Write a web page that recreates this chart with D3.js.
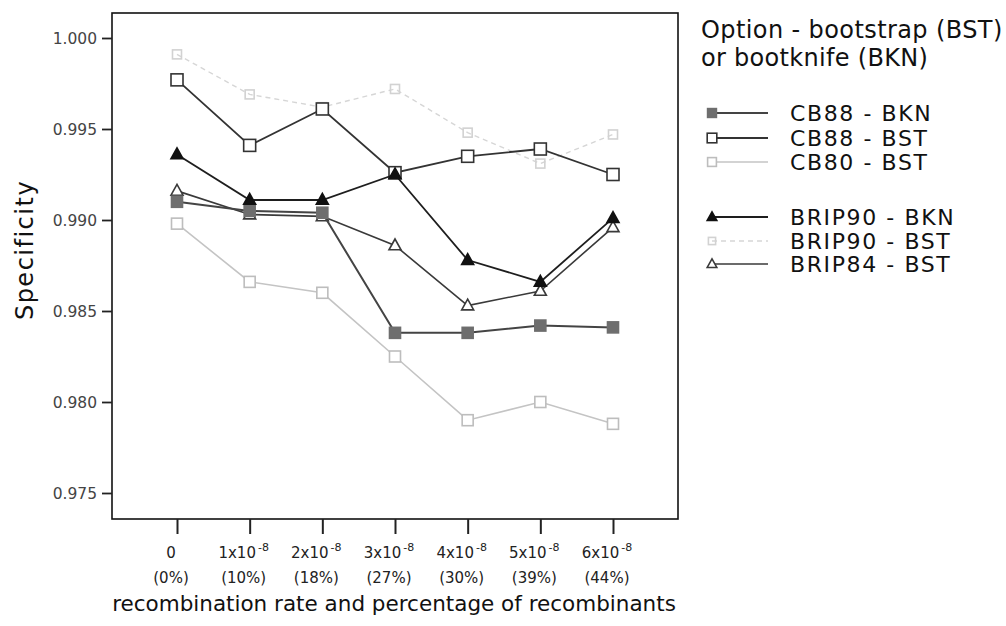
<!DOCTYPE html>
<html>
<head>
<meta charset="utf-8">
<script src="https://cdn.jsdelivr.net/npm/d3@7/dist/d3.min.js"></script>
<style>
  html, body { margin: 0; padding: 0; background: #fff; }
  svg { display: block; }
</style>
</head>
<body>
<svg id="chart" width="1006" height="626"></svg>
<script>
// Recombination rate categories (x axis)
const categories = ["r0", "r1", "r2", "r3", "r4", "r5", "r6"];
const rateMantissa = ["0", "1x10", "2x10", "3x10", "4x10", "5x10", "6x10"];
const rateExponent = ["", "-8", "-8", "-8", "-8", "-8", "-8"];
const pctLabels = ["(0%)", "(10%)", "(18%)", "(27%)", "(30%)", "(39%)", "(44%)"];
const yTicks = [0.975, 0.980, 0.985, 0.990, 0.995, 1.000];

// Specificity per option
const brip90Bst = [0.9991, 0.9969, 0.9962, 0.9972, 0.9948, 0.9931, 0.9947];
const cb80Bst   = [0.9898, 0.9866, 0.9860, 0.9825, 0.9790, 0.9800, 0.9788];
const brip84Bst = [0.9916, 0.9903, 0.9902, 0.9886, 0.9853, 0.9861, 0.9896];
const cb88Bkn   = [0.9910, 0.9905, 0.9904, 0.9838, 0.9838, 0.9842, 0.9841];
const cb88Bst   = [0.9977, 0.9941, 0.9961, 0.9926, 0.9935, 0.9939, 0.9925];
const brip90Bkn = [0.9936, 0.9911, 0.9911, 0.9925, 0.9878, 0.9866, 0.9901];

const series = [
  { name: "BRIP90 - BST", values: brip90Bst, stroke: "#d6d6d6", width: 1.4, dash: "5,4", marker: "square", fill: "none", mstroke: "#d2d2d2", size: 9 },
  { name: "CB80 - BST",   values: cb80Bst,   stroke: "#c4c4c4", width: 1.6, dash: null, marker: "square", fill: "#fff", mstroke: "#bdbdbd", size: 11 },
  { name: "BRIP84 - BST", values: brip84Bst, stroke: "#3a3a3a", width: 1.6, dash: null, marker: "triangle", fill: "#fff", mstroke: "#3a3a3a", size: 12 },
  { name: "CB88 - BKN",   values: cb88Bkn,   stroke: "#444444", width: 2.0, dash: null, marker: "square", fill: "#6e6e6e", mstroke: "#6e6e6e", size: 11 },
  { name: "CB88 - BST",   values: cb88Bst,   stroke: "#333333", width: 1.8, dash: null, marker: "square", fill: "#fff", mstroke: "#333333", size: 12 },
  { name: "BRIP90 - BKN", values: brip90Bkn, stroke: "#1e1e1e", width: 1.8, dash: null, marker: "triangleFilled", fill: "#111", mstroke: "#111", size: 12 }
];

// Legend rows, top to bottom, with a group gap
const legendOrder = ["CB88 - BKN", "CB88 - BST", "CB80 - BST", "BRIP90 - BKN", "BRIP90 - BST", "BRIP84 - BST"];
const legendBaselines = [121, 146, 170, 225, 249, 272];

const svg = d3.select("#chart");
const plot = { left: 112, top: 13, right: 678, bottom: 519 };

const x = d3.scalePoint().domain(categories).range([177, 613]);
const y = d3.scaleLinear().domain([0.975, 1.0]).range([493, 38]);

// frame
svg.append("rect")
  .attr("x", plot.left).attr("y", plot.top)
  .attr("width", plot.right - plot.left).attr("height", plot.bottom - plot.top)
  .attr("fill", "none").attr("stroke", "#111").attr("stroke-width", 1.6);

// y axis
const yAxis = d3.axisLeft(y).tickValues(yTicks).tickFormat(d3.format(".3f")).tickSize(10).tickPadding(5);
const gy = svg.append("g").attr("transform", `translate(${plot.left},0)`).call(yAxis);
gy.select(".domain").remove();
gy.selectAll(".tick line").attr("stroke", "#222").attr("stroke-width", 1.8);
gy.selectAll(".tick text")
  .attr("font-family", "DejaVu Sans, sans-serif").attr("font-size", 15.5)
  .attr("fill", "#444").attr("dy", "0.36em");

// x axis ticks
const xAxis = d3.axisBottom(x).tickSize(15).tickFormat("");
const gx = svg.append("g").attr("transform", `translate(0,${plot.bottom})`).call(xAxis);
gx.select(".domain").remove();
gx.selectAll(".tick line").attr("stroke", "#222").attr("stroke-width", 2);

// x tick labels: rate with exponent, then percentage of recombinants
const labelShift = -6;
const xl = svg.append("g").attr("font-family", "DejaVu Sans, sans-serif").attr("fill", "#222");
categories.forEach((c, i) => {
  const t = xl.append("text")
    .attr("x", x(c) + labelShift).attr("y", 558)
    .attr("text-anchor", "middle").attr("font-size", 15);
  t.append("tspan").text(rateMantissa[i]);
  if (rateExponent[i]) {
    t.append("tspan").attr("font-size", 11).attr("dy", -7).attr("dx", 2).text(rateExponent[i]);
  }
  xl.append("text")
    .attr("x", x(c) + labelShift).attr("y", 583)
    .attr("text-anchor", "middle").attr("font-size", 15)
    .text(pctLabels[i]);
});

// axis titles
svg.append("text")
  .attr("x", 394).attr("y", 611).attr("text-anchor", "middle")
  .attr("font-family", "DejaVu Sans, sans-serif").attr("font-size", 21.5).attr("fill", "#111")
  .text("recombination rate and percentage of recombinants");

svg.append("text")
  .attr("transform", "translate(33,250) rotate(-90)")
  .attr("text-anchor", "middle")
  .attr("font-family", "DejaVu Sans, sans-serif").attr("font-size", 24)
  .attr("letter-spacing", 1.5).attr("fill", "#111")
  .text("Specificity");

// marker drawing
function drawMarker(g, s, cx, cy, scale) {
  const k = scale || 1;
  const sz = s.size * k;
  if (s.marker === "square") {
    g.append("rect")
      .attr("x", cx - sz / 2).attr("y", cy - sz / 2)
      .attr("width", sz).attr("height", sz)
      .attr("fill", s.fill).attr("stroke", s.mstroke).attr("stroke-width", 1.6);
  } else {
    const h = sz * 0.9;
    const pts = [[cx, cy - h * 0.6], [cx - sz / 2, cy + h * 0.4], [cx + sz / 2, cy + h * 0.4]];
    g.append("polygon")
      .attr("points", pts.map(p => p.join(",")).join(" "))
      .attr("fill", s.marker === "triangleFilled" ? s.fill : "#fff")
      .attr("stroke", s.mstroke).attr("stroke-width", 1.6)
      .attr("stroke-linejoin", "miter");
  }
}

const line = d3.line().x((d, i) => x(categories[i])).y(d => y(d));

const marks = svg.append("g");
series.forEach(s => {
  const g = marks.append("g");
  g.append("path")
    .attr("d", line(s.values))
    .attr("fill", "none").attr("stroke", s.stroke).attr("stroke-width", s.width)
    .attr("stroke-dasharray", s.dash);
  s.values.forEach((v, i) => drawMarker(g, s, x(categories[i]), y(v)));
});

// legend
const leg = svg.append("g").attr("font-family", "DejaVu Sans, sans-serif").attr("fill", "#111");
leg.append("text").attr("x", 701).attr("y", 38).attr("font-size", 24).attr("letter-spacing", 0.4)
  .text("Option - bootstrap (BST)");
leg.append("text").attr("x", 701).attr("y", 66).attr("font-size", 24).attr("letter-spacing", 0.3)
  .text("or bootknife (BKN)");

legendOrder.forEach((name, i) => {
  const s = series.find(d => d.name === name);
  const by = legendBaselines[i];
  const my = by - 8;
  const g = leg.append("g");
  g.append("line")
    .attr("x1", 712).attr("x2", 768).attr("y1", my).attr("y2", my)
    .attr("stroke", s.stroke).attr("stroke-width", s.width)
    .attr("stroke-dasharray", s.dash);
  drawMarker(g, s, 712, my, 0.8);
  g.append("text").attr("x", 790).attr("y", by)
    .attr("font-size", 22).attr("letter-spacing", 1.6)
    .text(name);
});
</script>
</body>
</html>
